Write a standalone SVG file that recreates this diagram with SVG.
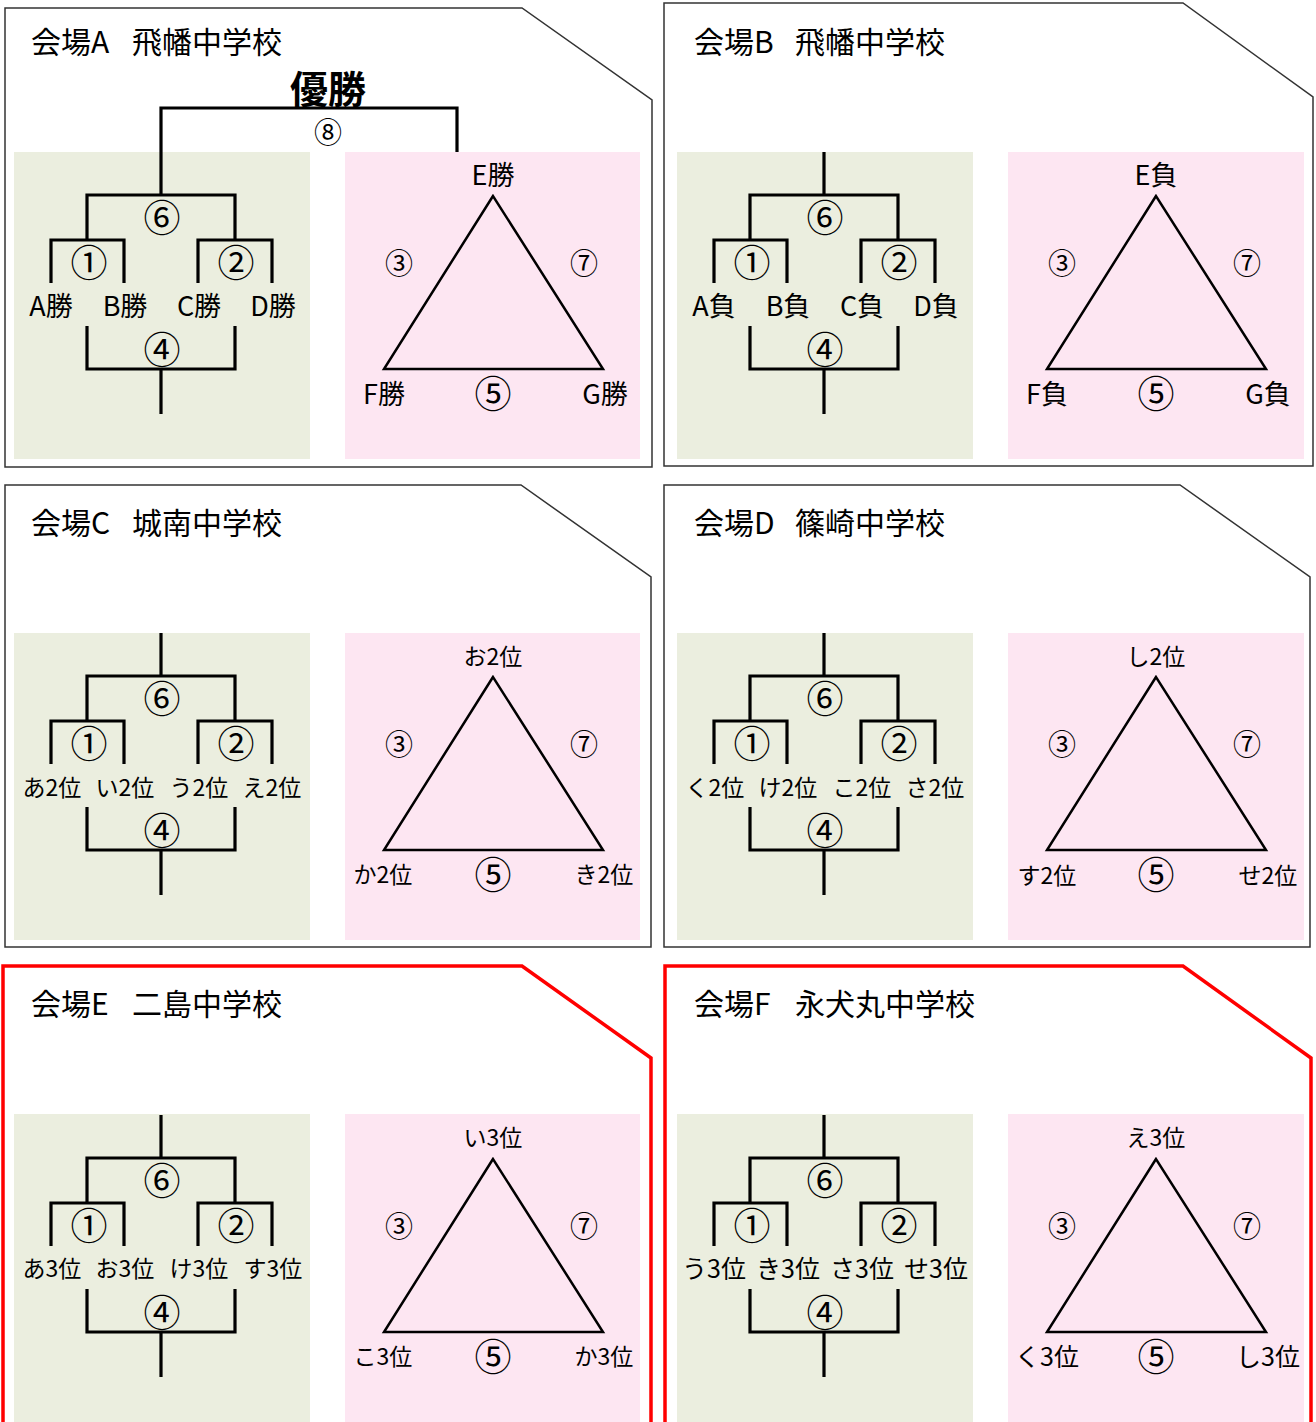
<svg xmlns="http://www.w3.org/2000/svg" width="1316" height="1422" viewBox="0 0 1316 1422">
<style>
.frame{fill:#fff;stroke:#333;stroke-width:1.5}
.red{fill:#fff;stroke:#f00;stroke-width:3.5}
.g{fill:#EBEEDF}
.p{fill:#FDE6F2}
.ln{fill:none;stroke:#000;stroke-width:3.2}
.tri{fill:none;stroke:#000;stroke-width:2.5;stroke-linejoin:miter}
text{font-family:"Noto Sans CJK JP","Liberation Sans",sans-serif;fill:#000}
.title{font-size:30px}
.lab{font-size:27px;text-anchor:middle;dominant-baseline:central}
.lab2{font-size:23px;text-anchor:middle;dominant-baseline:central}
.num{font-size:37px;text-anchor:middle;dominant-baseline:central}
.sm{font-size:28px;text-anchor:middle;dominant-baseline:central}
</style>
<defs>
<g id="brk">
<path class="ln" d="M161,152V195M87,240V195H235V240M51,283V240H124V283M198,283V240H272V283M87,326V369H235V326M161,369V414"/>
</g>
<g id="trig">
<path class="tri" d="M493,196L384,369H603Z"/>
</g>
</defs>

<!-- frames -->
<g id="frameA"><path class="frame" d="M5,8H522L652,100V467H5Z"/></g>
<g id="frameB"><path class="frame" d="M664,3H1183L1313,97V466H664Z"/></g>
<g id="frameC"><path class="frame" d="M5,485H521L651,577V947H5Z"/></g>
<g id="frameD"><path class="frame" d="M664,485H1180L1310,577V947H664Z"/></g>
<g id="frameE"><path class="red" d="M3,1430V966H522L651,1058V1430"/></g>
<g id="frameF"><path class="red" d="M665,1430V966H1183L1311,1058V1430"/></g>

<!-- Panel A -->
<g id="panelA">
<text class="title" x="31" y="53">会場A<tspan x="132">飛幡中学校</tspan></text>
<rect class="g" x="14" y="152" width="296" height="307"/>
<rect class="p" x="345" y="152" width="295" height="307"/>
<text x="328" y="86" style="font-size:38px;font-weight:bold;text-anchor:middle;dominant-baseline:central">優勝</text>
<text class="sm" x="328" y="131">⑧</text>
<use href="#brk"/>
<use href="#trig"/>
<text class="num" x="162" y="216">⑥</text>
<text class="num" x="89" y="261">①</text>
<text class="num" x="236" y="261">②</text>
<text class="num" x="162" y="348">④</text>
<text class="lab" x="51" y="304">A勝</text>
<text class="lab" x="125" y="304">B勝</text>
<text class="lab" x="199" y="304">C勝</text>
<text class="lab" x="273" y="304">D勝</text>
<text class="lab" x="493" y="173">E勝</text>
<text class="lab" x="384" y="392">F勝</text>
<text class="num" x="493" y="392">⑤</text>
<text class="lab" x="605" y="392">G勝</text>
<text class="sm" x="399" y="262">③</text>
<text class="sm" x="584" y="262">⑦</text>
</g>

<g id="connectorsA"><path class="ln" d="M161,152V108H457V152"/></g>

<!-- Panel B -->
<g id="panelB">
<text class="title" x="694" y="53">会場B<tspan x="795">飛幡中学校</tspan></text>
<rect class="g" x="677" y="152" width="296" height="307"/>
<rect class="p" x="1008" y="152" width="296" height="307"/>
<g transform="translate(663,0)">
<use href="#brk"/>
<use href="#trig"/>
<text class="num" x="162" y="216">⑥</text>
<text class="num" x="89" y="261">①</text>
<text class="num" x="236" y="261">②</text>
<text class="num" x="162" y="348">④</text>
<text class="lab" x="51" y="304">A負</text>
<text class="lab" x="125" y="304">B負</text>
<text class="lab" x="199" y="304">C負</text>
<text class="lab" x="273" y="304">D負</text>
<text class="lab" x="493" y="173">E負</text>
<text class="lab" x="384" y="392">F負</text>
<text class="num" x="493" y="392">⑤</text>
<text class="lab" x="605" y="392">G負</text>
<text class="sm" x="399" y="262">③</text>
<text class="sm" x="584" y="262">⑦</text>
</g>
</g>

<!-- Panel C -->
<g id="panelC">
<text class="title" x="31" y="534">会場C<tspan x="132">城南中学校</tspan></text>
<rect class="g" x="14" y="633" width="296" height="307"/>
<rect class="p" x="345" y="633" width="295" height="307"/>
<g transform="translate(0,481)">
<use href="#brk"/>
<use href="#trig"/>
<text class="num" x="162" y="216">⑥</text>
<text class="num" x="89" y="261">①</text>
<text class="num" x="236" y="261">②</text>
<text class="num" x="162" y="348">④</text>
<text class="lab2" x="52" y="305">あ2位</text>
<text class="lab2" x="125" y="305">い2位</text>
<text class="lab2" x="199" y="305">う2位</text>
<text class="lab2" x="272" y="305">え2位</text>
<text class="lab2" x="493" y="174">お2位</text>
<text class="lab2" x="383" y="392">か2位</text>
<text class="num" x="493" y="392">⑤</text>
<text class="lab2" x="604" y="392">き2位</text>
<text class="sm" x="399" y="262">③</text>
<text class="sm" x="584" y="262">⑦</text>
</g>
</g>

<!-- Panel D -->
<g id="panelD">
<text class="title" x="694" y="534">会場D<tspan x="795">篠崎中学校</tspan></text>
<rect class="g" x="677" y="633" width="296" height="307"/>
<rect class="p" x="1008" y="633" width="296" height="307"/>
<g transform="translate(663,481)">
<use href="#brk"/>
<use href="#trig"/>
<text class="num" x="162" y="216">⑥</text>
<text class="num" x="89" y="261">①</text>
<text class="num" x="236" y="261">②</text>
<text class="num" x="162" y="348">④</text>
<text class="lab2" x="52" y="305">く2位</text>
<text class="lab2" x="125" y="305">け2位</text>
<text class="lab2" x="199" y="305">こ2位</text>
<text class="lab2" x="272" y="305">さ2位</text>
<text class="lab2" x="493" y="174">し2位</text>
<text class="lab2" x="384" y="393">す2位</text>
<text class="num" x="493" y="392">⑤</text>
<text class="lab2" x="605" y="393">せ2位</text>
<text class="sm" x="399" y="262">③</text>
<text class="sm" x="584" y="262">⑦</text>
</g>
</g>

<!-- Panel E -->
<g id="panelE">
<text class="title" x="31" y="1015">会場E<tspan x="132">二島中学校</tspan></text>
<rect class="g" x="14" y="1114" width="296" height="308"/>
<rect class="p" x="345" y="1114" width="295" height="308"/>
<g transform="translate(0,963)">
<use href="#brk"/>
<use href="#trig"/>
<text class="num" x="162" y="216">⑥</text>
<text class="num" x="89" y="261">①</text>
<text class="num" x="236" y="261">②</text>
<text class="num" x="162" y="348">④</text>
<text class="lab2" x="52" y="304">あ3位</text>
<text class="lab2" x="125" y="304">お3位</text>
<text class="lab2" x="199" y="304">け3位</text>
<text class="lab2" x="273" y="304">す3位</text>
<text class="lab2" x="493" y="173">い3位</text>
<text class="lab2" x="383" y="392">こ3位</text>
<text class="num" x="493" y="392">⑤</text>
<text class="lab2" x="604" y="392">か3位</text>
<text class="sm" x="399" y="262">③</text>
<text class="sm" x="584" y="262">⑦</text>
</g>
</g>

<!-- Panel F -->
<g id="panelF">
<text class="title" x="694" y="1015">会場F<tspan x="795">永犬丸中学校</tspan></text>
<rect class="g" x="677" y="1114" width="296" height="308"/>
<rect class="p" x="1008" y="1114" width="296" height="308"/>
<g transform="translate(663,963)">
<use href="#brk"/>
<use href="#trig"/>
<text class="num" x="162" y="216">⑥</text>
<text class="num" x="89" y="261">①</text>
<text class="num" x="236" y="261">②</text>
<text class="num" x="162" y="348">④</text>
<text class="lab2" x="51" y="304" style="font-size:25px">う3位</text>
<text class="lab2" x="125" y="304" style="font-size:25px">き3位</text>
<text class="lab2" x="199" y="304" style="font-size:25px">さ3位</text>
<text class="lab2" x="273" y="304" style="font-size:25px">せ3位</text>
<text class="lab2" x="493" y="173">え3位</text>
<text class="lab2" x="384" y="392" style="font-size:25px">く3位</text>
<text class="num" x="493" y="392">⑤</text>
<text class="lab2" x="605" y="392" style="font-size:25px">し3位</text>
<text class="sm" x="399" y="262">③</text>
<text class="sm" x="584" y="262">⑦</text>
</g>
</g>
</svg>
